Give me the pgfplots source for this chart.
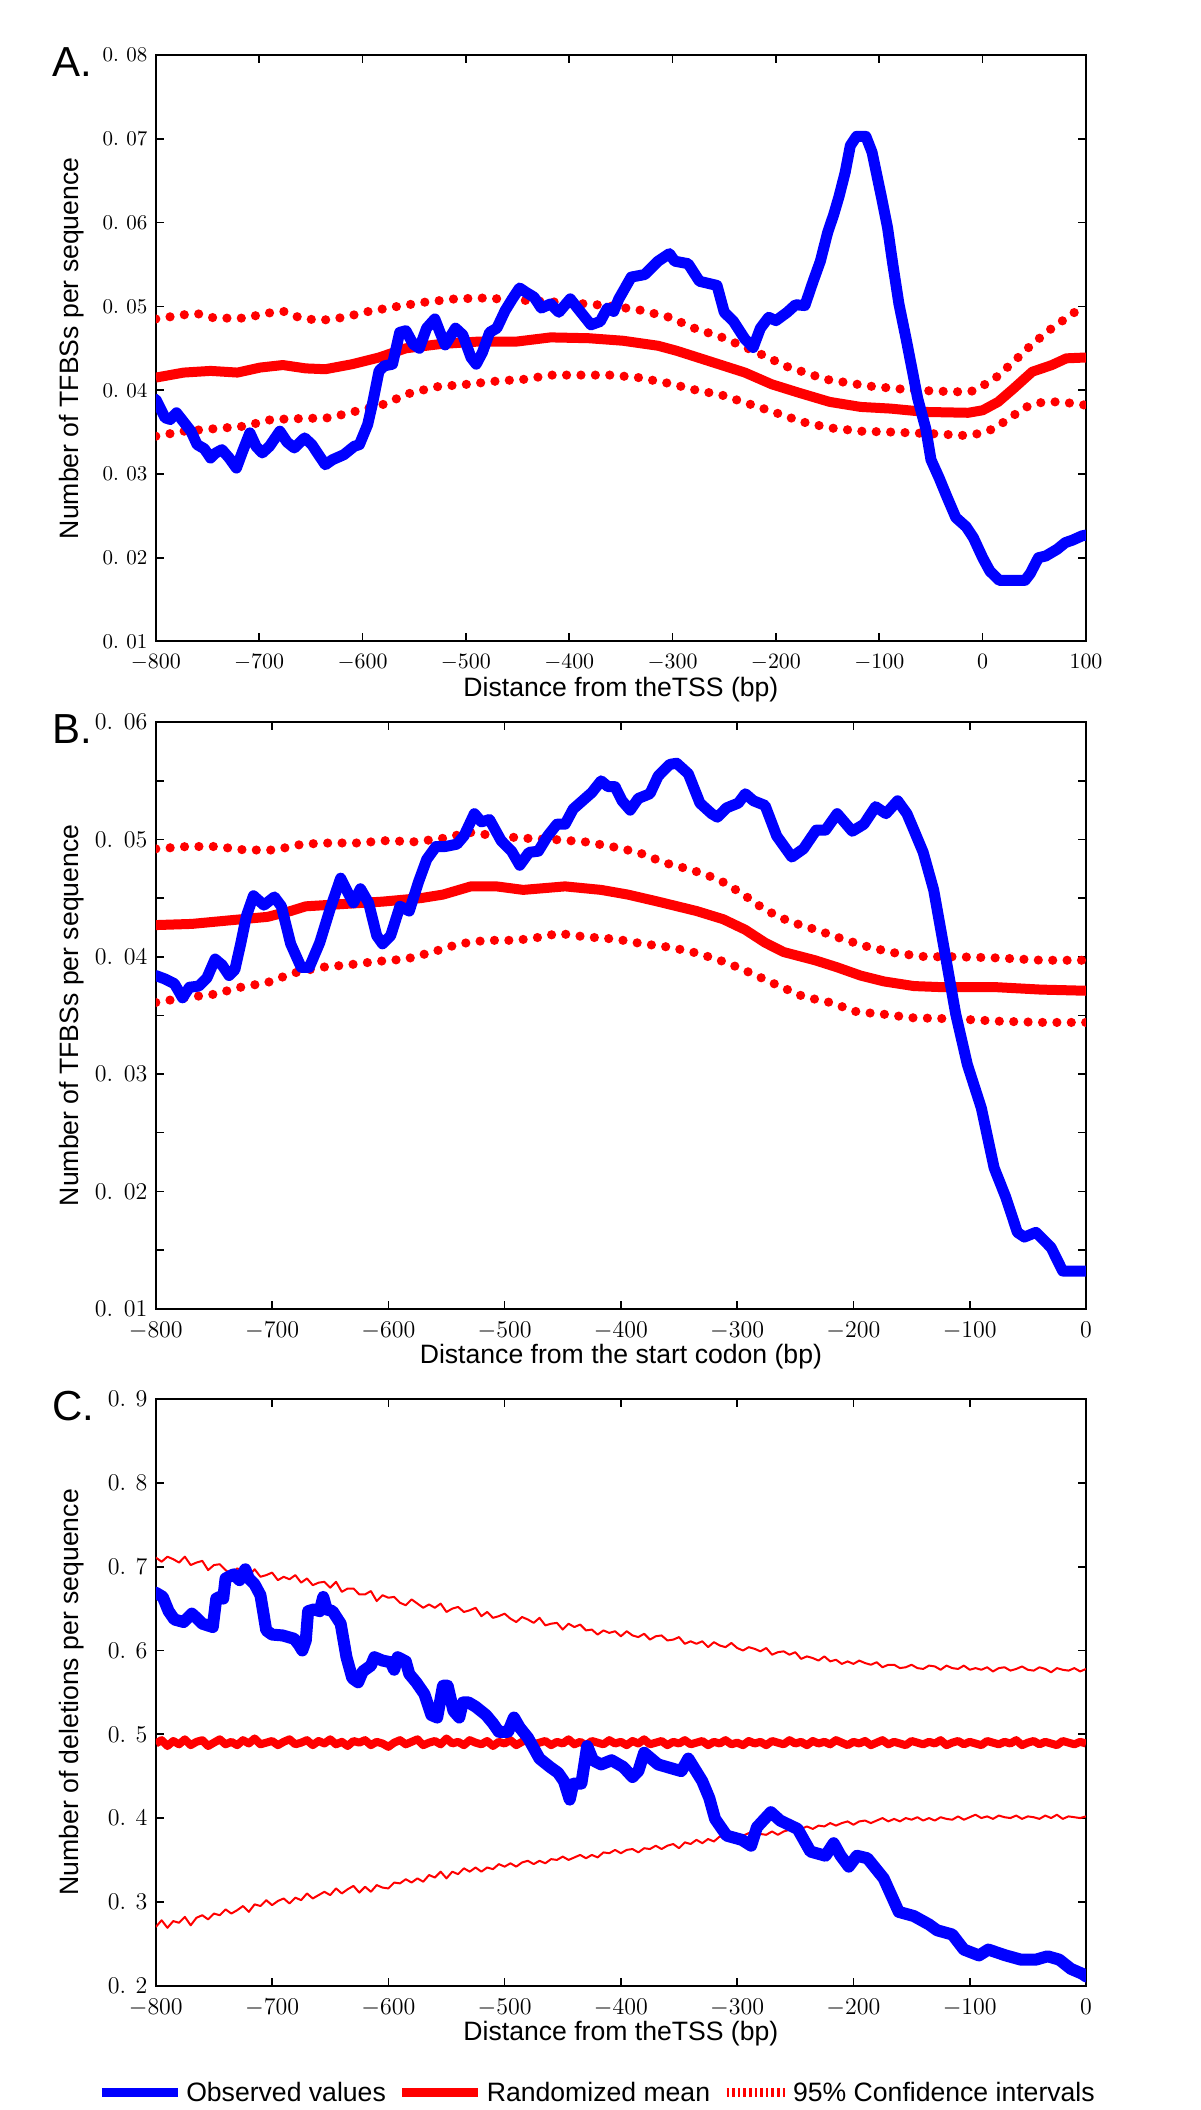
\documentclass[border=0pt]{standalone}
\usepackage{pgfplots}
\pgfplotsset{compat=1.18}
\usepackage{fontspec}
\newfontfamily\arial{Liberation Sans}
\pgfplotsset{
 panel/.style={
  scale only axis, width=465.1pt, height=293.2pt, anchor=south west,
  scaled y ticks=false, scaled x ticks=false,
  axis line style={line width=1pt, black},
  tick style={black, line width=0.8pt},
  major tick length=4pt, minor tick length=4pt, tick align=inside,
  label style={font=\arial\fontsize{13.3}{15}\selectfont},
  ylabel style={at={(axis description cs:-0.0903,0.5)}, anchor=center},
  xlabel style={at={(axis description cs:0.5,0)}, anchor=center, yshift=-24pt},
  xticklabel style={inner sep=1pt, yshift=-5.5pt},
  yticklabel style={inner sep=1pt, xshift=-3pt},
 },
 obs/.style={blue, line width=5.5pt, line join=round, line cap=round, forget plot},
 rmean/.style={red, line width=5pt, line join=round, forget plot},
 cidot/.style={red, line width=4.6pt, line cap=round, dash pattern=on 0pt off 7.2pt, forget plot},
 cithin/.style={red, line width=1pt, line join=round, forget plot},
}
\begin{document}
\begin{tikzpicture}
\useasboundingbox (0,0) rectangle (600pt,1055pt);
% ---------------- Panel A ----------------
\begin{axis}[panel, at={(77.9pt,734.25pt)},
  xmin=-800, xmax=100, ymin=0.01, ymax=0.08,
  xtick={-800,-700,-600,-500,-400,-300,-200,-100,0,100},
  ytick={0.01,0.02,0.03,0.04,0.05,0.06,0.07,0.08},
  yticklabels={0.\hspace{0.35em}01,0.\hspace{0.35em}02,0.\hspace{0.35em}03,0.\hspace{0.35em}04,0.\hspace{0.35em}05,0.\hspace{0.35em}06,0.\hspace{0.35em}07,0.\hspace{0.35em}08},
  ticklabel style={font=\fontsize{10.5}{12}\selectfont},
  xlabel={Distance from theTSS (bp)},
  ylabel={Number of TFBSs per sequence}]
\addplot[cidot] coordinates {(-800,0.0485) (-773,0.0490) (-758,0.0491) (-743,0.0486) (-729,0.0486) (-714,0.0486) (-692,0.0492) (-675,0.0494) (-662,0.0487) (-647,0.0484) (-634,0.0484) (-618,0.0487) (-594,0.0494) (-566,0.0500) (-540,0.0505) (-510,0.0509) (-482,0.0510) (-455,0.0508) (-425,0.0506) (-396,0.0504) (-363,0.0501) (-333,0.0496) (-303,0.0487) (-279,0.0474) (-252,0.0463) (-218,0.0445) (-189,0.0428) (-152,0.0413) (-111,0.0405) (-67,0.0400) (-26,0.0398) (-9,0.0399) (11,0.0413) (30,0.0434) (48,0.0455) (67,0.0474) (89,0.0493) (100,0.0497)};
\addplot[cidot] coordinates {(-800,0.0345) (-773,0.0351) (-743,0.0354) (-714,0.0357) (-688,0.0365) (-662,0.0366) (-632,0.0367) (-606,0.0375) (-580,0.0383) (-555,0.0396) (-529,0.0404) (-499,0.0407) (-469,0.0411) (-443,0.0413) (-418,0.0418) (-388,0.0418) (-359,0.0418) (-333,0.0415) (-303,0.0408) (-277,0.0400) (-252,0.0394) (-222,0.0382) (-200,0.0373) (-174,0.0362) (-148,0.0355) (-118,0.0351) (-89,0.0350) (-48,0.0348) (-19,0.0346) (-4,0.0348) (11,0.0354) (30,0.0370) (44,0.0381) (59,0.0386) (74,0.0386) (89,0.0384) (100,0.0382)};
\addplot[rmean] coordinates {(-800,0.0415) (-773,0.0421) (-747,0.0423) (-721,0.0421) (-699,0.0427) (-677,0.0430) (-655,0.0426) (-636,0.0425) (-610,0.0431) (-584,0.0439) (-558,0.0450) (-525,0.0455) (-488,0.0458) (-451,0.0458) (-418,0.0463) (-381,0.0462) (-348,0.0459) (-314,0.0453) (-296,0.0447) (-263,0.0434) (-230,0.0421) (-204,0.0407) (-178,0.0397) (-148,0.0386) (-118,0.0380) (-89,0.0378) (-55,0.0374) (-14,0.0373) (0,0.0376) (15,0.0386) (30,0.0402) (48,0.0422) (67,0.0430) (81,0.0438) (100,0.0439)};
\addplot[obs] coordinates {(-800,0.0389) (-791,0.0367) (-786,0.0365) (-780,0.0373) (-773,0.0362) (-766,0.0351) (-760,0.0335) (-753,0.0330) (-747,0.0319) (-742,0.0325) (-736,0.0329) (-729,0.0319) (-722,0.0307) (-716,0.0327) (-709,0.0349) (-703,0.0333) (-697,0.0325) (-690,0.0333) (-680,0.0351) (-673,0.0338) (-666,0.0331) (-656,0.0343) (-649,0.0335) (-642,0.0322) (-636,0.0311) (-629,0.0317) (-618,0.0323) (-608,0.0333) (-603,0.0335) (-595,0.0359) (-590,0.0386) (-584,0.0423) (-579,0.0429) (-571,0.0431) (-564,0.0469) (-558,0.0471) (-551,0.0455) (-545,0.0450) (-538,0.0474) (-530,0.0485) (-525,0.0469) (-520,0.0454) (-510,0.0474) (-503,0.0466) (-495,0.0439) (-490,0.0431) (-484,0.0445) (-477,0.0469) (-470,0.0474) (-462,0.0495) (-455,0.0509) (-448,0.0522) (-442,0.0517) (-434,0.0511) (-427,0.0498) (-418,0.0503) (-410,0.0493) (-399,0.0509) (-392,0.0498) (-379,0.0478) (-370,0.0482) (-363,0.0498) (-357,0.0494) (-352,0.0509) (-340,0.0535) (-327,0.0538) (-314,0.0554) (-303,0.0563) (-298,0.0554) (-285,0.0551) (-274,0.0530) (-257,0.0525) (-250,0.0493) (-241,0.0482) (-230,0.0461) (-222,0.0451) (-215,0.0474) (-207,0.0487) (-200,0.0483) (-189,0.0493) (-181,0.0502) (-172,0.0501) (-164,0.0530) (-157,0.0554) (-150,0.0588) (-144,0.0610) (-139,0.0631) (-133,0.0660) (-128,0.0692) (-122,0.0703) (-113,0.0703) (-107,0.0684) (-98,0.0631) (-92,0.0594) (-87,0.0551) (-81,0.0503) (-74,0.0461) (-68,0.0423) (-63,0.0391) (-55,0.0354) (-50,0.0317) (-42,0.0295) (-35,0.0274) (-26,0.0248) (-16,0.0237) (-9,0.0224) (0,0.0200) (7,0.0184) (16,0.0173) (29,0.0173) (41,0.0173) (46,0.0181) (54,0.0200) (61,0.0202) (72,0.0210) (80,0.0218) (87,0.0221) (96,0.0226) (100,0.0227)};
\end{axis}
% ---------------- Panel B ----------------
\begin{axis}[panel, at={(77.9pt,400.7pt)},
  xmin=-800, xmax=0, ymin=0.01, ymax=0.06,
  xtick={-800,-700,-600,-500,-400,-300,-200,-100,0},
  ytick={0.01,0.02,0.03,0.04,0.05,0.06},
  minor ytick={0.015,0.025,0.035,0.045,0.055},
  yticklabels={0.\hspace{0.45em}01,0.\hspace{0.45em}02,0.\hspace{0.45em}03,0.\hspace{0.45em}04,0.\hspace{0.45em}05,0.\hspace{0.45em}06},
  ticklabel style={font=\fontsize{12}{14}\selectfont},
  xlabel={Distance from the start codon (bp)},
  ylabel={Number of TFBSs per sequence}]
\addplot[cidot] coordinates {(-800,0.0492) (-773,0.0494) (-748,0.0494) (-723,0.0491) (-698,0.0491) (-674,0.0496) (-651,0.0497) (-626,0.0497) (-602,0.0499) (-577,0.0498) (-553,0.0501) (-530,0.0506) (-507,0.0503) (-482,0.0501) (-458,0.0500) (-431,0.0498) (-408,0.0494) (-385,0.0489) (-362,0.0480) (-339,0.0474) (-316,0.0466) (-296,0.0454) (-276,0.0440) (-255,0.0430) (-232,0.0423) (-209,0.0415) (-186,0.0408) (-163,0.0403) (-138,0.0400) (-112,0.0400) (-76,0.0399) (-38,0.0397) (0,0.0397)};
\addplot[cidot] coordinates {(-800,0.0361) (-776,0.0365) (-750,0.0368) (-727,0.0374) (-704,0.0378) (-682,0.0386) (-658,0.0391) (-635,0.0393) (-610,0.0396) (-585,0.0398) (-562,0.0404) (-539,0.0411) (-516,0.0414) (-490,0.0414) (-467,0.0417) (-454,0.0420) (-431,0.0417) (-404,0.0415) (-381,0.0411) (-357,0.0408) (-334,0.0403) (-309,0.0395) (-288,0.0386) (-266,0.0376) (-243,0.0366) (-220,0.0361) (-197,0.0353) (-174,0.0351) (-150,0.0348) (-112,0.0347) (-74,0.0345) (-36,0.0344) (0,0.0344)};
\addplot[rmean] coordinates {(-800,0.0427) (-769,0.0428) (-737,0.0431) (-704,0.0434) (-684,0.0439) (-671,0.0443) (-638,0.0445) (-605,0.0447) (-572,0.0450) (-553,0.0453) (-529,0.0460) (-507,0.0460) (-484,0.0457) (-448,0.0460) (-417,0.0457) (-394,0.0453) (-368,0.0447) (-335,0.0439) (-312,0.0432) (-293,0.0423) (-276,0.0412) (-260,0.0404) (-233,0.0397) (-214,0.0391) (-194,0.0384) (-174,0.0379) (-148,0.0375) (-122,0.0374) (-76,0.0374) (-39,0.0372) (0,0.0371)};
\addplot[obs] coordinates {(-800,0.0384) (-792,0.0381) (-784,0.0377) (-777,0.0365) (-771,0.0374) (-763,0.0375) (-756,0.0382) (-749,0.0398) (-743,0.0393) (-737,0.0384) (-732,0.0389) (-727,0.0411) (-722,0.0435) (-716,0.0452) (-707,0.0444) (-698,0.0451) (-692,0.0443) (-684,0.0411) (-675,0.0391) (-668,0.0391) (-659,0.0412) (-650,0.0441) (-641,0.0467) (-635,0.0455) (-630,0.0446) (-624,0.0458) (-617,0.0446) (-610,0.0418) (-605,0.0411) (-598,0.0418) (-590,0.0443) (-582,0.0439) (-574,0.0464) (-567,0.0483) (-559,0.0494) (-551,0.0494) (-541,0.0496) (-535,0.0503) (-526,0.0522) (-520,0.0515) (-513,0.0517) (-503,0.0499) (-494,0.0490) (-487,0.0478) (-479,0.0489) (-471,0.0490) (-463,0.0503) (-455,0.0513) (-448,0.0513) (-441,0.0526) (-433,0.0533) (-425,0.0540) (-417,0.0550) (-411,0.0545) (-405,0.0545) (-399,0.0533) (-392,0.0525) (-385,0.0535) (-375,0.0539) (-368,0.0554) (-358,0.0564) (-352,0.0565) (-342,0.0556) (-332,0.0531) (-322,0.0522) (-317,0.0519) (-309,0.0527) (-299,0.0531) (-293,0.0539) (-286,0.0533) (-276,0.0529) (-266,0.0503) (-253,0.0485) (-243,0.0492) (-232,0.0508) (-224,0.0508) (-214,0.0522) (-201,0.0507) (-191,0.0513) (-181,0.0528) (-172,0.0522) (-162,0.0533) (-154,0.0522) (-148,0.0508) (-140,0.0489) (-131,0.0457) (-122,0.0407) (-112,0.0351) (-102,0.0308) (-90,0.0271) (-79,0.0220) (-69,0.0195) (-59,0.0165) (-53,0.0161) (-43,0.0165) (-30,0.0152) (-20,0.0132) (-10,0.0132) (0,0.0132)};
\end{axis}
% ---------------- Panel C ----------------
\begin{axis}[panel, at={(77.9pt,62.2pt)},
  xmin=-800, xmax=0, ymin=0.2, ymax=0.9,
  xtick={-800,-700,-600,-500,-400,-300,-200,-100,0},
  ytick={0.2,0.3,0.4,0.5,0.6,0.7,0.8,0.9},
  yticklabels={0.\hspace{0.4em}2,0.\hspace{0.4em}3,0.\hspace{0.4em}4,0.\hspace{0.4em}5,0.\hspace{0.4em}6,0.\hspace{0.4em}7,0.\hspace{0.4em}8,0.\hspace{0.4em}9},
  ticklabel style={font=\fontsize{12}{14}\selectfont},
  xlabel={Distance from theTSS (bp)},
  ylabel={Number of deletions per sequence},
  legend style={at={(axis description cs:0.4754,-0.183)}, anchor=center, draw=none, fill=none,
    legend columns=3, font=\arial\fontsize{13.3}{15}\selectfont, inner sep=0pt,
    /tikz/every even column/.append style={column sep=4pt}},
  legend image code/.code={\draw[#1] (0pt,0pt) -- (38pt,0pt);}]
\addlegendimage{blue, line width=4.5pt}
\addlegendentry{Observed values}
\addlegendimage{red, line width=4.5pt}
\addlegendentry{Randomized mean}
\addlegendimage{legend image code/.code={\draw[red, line width=4.5pt, dash pattern=on 1.3pt off 1.5pt] (9pt,0pt) -- (38pt,0pt);}}
\addlegendentry{95\% Confidence intervals}
\addplot[cithin] coordinates {(-800,.711) (-795,.706) (-790,.712) (-785,.709) (-780,.705) (-775,.712) (-770,.702) (-765,.705) (-760,.707) (-755,.696) (-750,.702) (-745,.703) (-740,.696) (-735,.691) (-730,.698) (-725,.695) (-720,.689) (-715,.697) (-710,.688) (-705,.690) (-700,.693) (-695,.684) (-690,.688) (-685,.685) (-680,.690) (-675,.681) (-670,.686) (-665,.678) (-660,.681) (-655,.682) (-650,.675) (-645,.682) (-640,.670) (-635,.674) (-630,.674) (-625,.667) (-620,.667) (-615,.671) (-610,.659) (-605,.666) (-600,.663) (-595,.664) (-590,.657) (-585,.654) (-580,.661) (-575,.656) (-570,.651) (-565,.655) (-560,.651) (-555,.656) (-550,.646) (-545,.650) (-540,.652) (-535,.646) (-530,.648) (-525,.651) (-520,.641) (-515,.646) (-510,.639) (-505,.641) (-500,.644) (-495,.638) (-490,.634) (-485,.640) (-480,.637) (-475,.633) (-470,.639) (-465,.630) (-460,.632) (-455,.633) (-450,.625) (-445,.632) (-440,.628) (-435,.631) (-430,.624) (-425,.625) (-420,.619) (-415,.624) (-410,.621) (-405,.623) (-400,.617) (-395,.623) (-390,.618) (-385,.616) (-380,.620) (-375,.613) (-370,.617) (-365,.618) (-360,.612) (-355,.613) (-350,.616) (-345,.608) (-340,.611) (-335,.608) (-330,.611) (-325,.604) (-320,.610) (-315,.606) (-310,.604) (-305,.609) (-300,.603) (-295,.600) (-290,.604) (-285,.602) (-280,.599) (-275,.603) (-270,.595) (-265,.598) (-260,.599) (-255,.595) (-250,.598) (-245,.590) (-240,.593) (-235,.591) (-230,.588) (-225,.593) (-220,.587) (-215,.589) (-210,.584) (-205,.587) (-200,.584) (-195,.588) (-190,.585) (-185,.583) (-180,.586) (-175,.580) (-170,.583) (-165,.583) (-160,.579) (-155,.580) (-150,.583) (-145,.579) (-140,.578) (-135,.582) (-130,.581) (-125,.577) (-120,.582) (-115,.579) (-110,.578) (-105,.582) (-100,.577) (-95,.579) (-90,.577) (-85,.580) (-80,.575) (-75,.579) (-70,.580) (-65,.576) (-60,.578) (-55,.581) (-50,.577) (-45,.576) (-40,.580) (-35,.578) (-30,.574) (-25,.579) (-20,.577) (-15,.576) (-10,.579) (-5,.575) (0,.578)};
\addplot[cithin] coordinates {(-800,.270) (-795,.278) (-790,.269) (-785,.277) (-780,.275) (-775,.282) (-770,.272) (-765,.281) (-760,.284) (-755,.279) (-750,.286) (-745,.284) (-740,.291) (-735,.286) (-730,.290) (-725,.295) (-720,.288) (-715,.297) (-710,.295) (-705,.302) (-700,.296) (-695,.301) (-690,.304) (-685,.298) (-680,.305) (-675,.302) (-670,.310) (-665,.304) (-660,.308) (-655,.312) (-650,.308) (-645,.316) (-640,.310) (-635,.315) (-630,.319) (-625,.311) (-620,.318) (-615,.312) (-610,.320) (-605,.317) (-600,.316) (-595,.323) (-590,.322) (-585,.327) (-580,.323) (-575,.328) (-570,.324) (-565,.332) (-560,.329) (-555,.336) (-550,.328) (-545,.336) (-540,.333) (-535,.340) (-530,.336) (-525,.341) (-520,.336) (-515,.341) (-510,.339) (-505,.345) (-500,.342) (-495,.346) (-490,.342) (-485,.347) (-480,.349) (-475,.345) (-470,.349) (-465,.346) (-460,.351) (-455,.350) (-450,.354) (-445,.350) (-440,.353) (-435,.356) (-430,.352) (-425,.356) (-420,.353) (-415,.359) (-410,.358) (-405,.362) (-400,.358) (-395,.362) (-390,.363) (-385,.359) (-380,.364) (-375,.363) (-370,.367) (-365,.363) (-360,.367) (-355,.369) (-350,.364) (-345,.371) (-340,.369) (-335,.374) (-330,.370) (-325,.375) (-320,.372) (-315,.378) (-310,.376) (-305,.379) (-300,.375) (-295,.379) (-290,.382) (-285,.378) (-280,.381) (-275,.380) (-270,.384) (-265,.380) (-260,.384) (-255,.386) (-250,.383) (-245,.387) (-240,.390) (-235,.387) (-230,.391) (-225,.390) (-220,.394) (-215,.391) (-210,.394) (-205,.396) (-200,.392) (-195,.396) (-190,.397) (-185,.394) (-180,.397) (-175,.400) (-170,.396) (-165,.399) (-160,.396) (-155,.400) (-150,.398) (-145,.401) (-140,.397) (-135,.400) (-130,.397) (-125,.401) (-120,.399) (-115,.398) (-110,.402) (-105,.398) (-100,.401) (-95,.404) (-90,.400) (-85,.402) (-80,.399) (-75,.403) (-70,.401) (-65,.400) (-60,.403) (-55,.399) (-50,.402) (-45,.401) (-40,.399) (-35,.403) (-30,.400) (-25,.404) (-20,.399) (-15,.402) (-10,.401) (-5,.400) (0,.402)};
\addplot[red, line width=4pt, line join=round, forget plot] coordinates {(-800,.489) (-795,.493) (-790,.486) (-785,.492) (-780,.488) (-775,.494) (-770,.487) (-765,.491) (-760,.493) (-755,.486) (-750,.490) (-745,.494) (-740,.488) (-735,.491) (-730,.487) (-725,.493) (-720,.489) (-715,.495) (-710,.488) (-705,.490) (-700,.492) (-695,.487) (-690,.491) (-685,.494) (-680,.488) (-675,.490) (-670,.493) (-665,.487) (-660,.492) (-655,.489) (-650,.494) (-645,.488) (-640,.491) (-635,.486) (-630,.492) (-625,.490) (-620,.493) (-615,.487) (-610,.491) (-605,.489) (-600,.485) (-595,.490) (-590,.493) (-585,.488) (-580,.491) (-575,.494) (-570,.487) (-565,.490) (-560,.492) (-555,.488) (-550,.495) (-545,.489) (-540,.491) (-535,.487) (-530,.493) (-525,.490) (-520,.488) (-515,.492) (-510,.486) (-505,.491) (-500,.489) (-495,.493) (-490,.487) (-485,.491) (-480,.494) (-475,.488) (-470,.490) (-465,.492) (-460,.487) (-455,.491) (-450,.489) (-445,.494) (-440,.488) (-435,.491) (-430,.487) (-425,.492) (-420,.490) (-415,.488) (-410,.493) (-405,.489) (-400,.491) (-395,.487) (-390,.492) (-385,.489) (-380,.494) (-375,.488) (-370,.490) (-365,.492) (-360,.487) (-355,.491) (-350,.489) (-345,.493) (-340,.488) (-335,.490) (-330,.492) (-325,.487) (-320,.491) (-315,.489) (-310,.493) (-305,.488) (-300,.490) (-295,.487) (-290,.492) (-285,.489) (-280,.491) (-275,.487) (-270,.492) (-265,.490) (-260,.488) (-255,.493) (-250,.489) (-245,.491) (-240,.487) (-235,.492) (-230,.489) (-225,.491) (-220,.488) (-215,.493) (-210,.490) (-205,.487) (-200,.491) (-195,.489) (-190,.492) (-185,.487) (-180,.490) (-175,.493) (-170,.488) (-165,.491) (-160,.489) (-155,.487) (-150,.492) (-145,.490) (-140,.488) (-135,.491) (-130,.489) (-125,.493) (-120,.487) (-115,.490) (-110,.492) (-105,.488) (-100,.491) (-95,.489) (-90,.487) (-85,.492) (-80,.490) (-75,.488) (-70,.491) (-65,.489) (-60,.493) (-55,.487) (-50,.490) (-45,.492) (-40,.488) (-35,.491) (-30,.489) (-25,.487) (-20,.492) (-15,.490) (-10,.488) (-5,.491) (0,.489)};
\addplot[obs, line width=6pt] coordinates {(-800,0.669) (-794,0.664) (-789,0.647) (-784,0.637) (-776,0.634) (-769,0.644) (-765,0.639) (-760,0.632) (-751,0.628) (-748,0.662) (-745,0.664) (-742,0.662) (-740,0.686) (-733,0.691) (-728,0.684) (-723,0.697) (-720,0.686) (-715,0.679) (-710,0.666) (-705,0.624) (-700,0.619) (-691,0.618) (-681,0.614) (-677,0.607) (-674,0.600) (-671,0.612) (-669,0.647) (-664,0.649) (-659,0.647) (-656,0.664) (-653,0.649) (-648,0.647) (-641,0.632) (-636,0.592) (-631,0.567) (-626,0.562) (-622,0.575) (-615,0.582) (-612,0.592) (-605,0.588) (-598,0.586) (-595,0.577) (-592,0.592) (-585,0.587) (-582,0.572) (-576,0.562) (-569,0.548) (-563,0.523) (-558,0.520) (-553,0.558) (-549,0.558) (-544,0.528) (-539,0.520) (-536,0.538) (-531,0.538) (-525,0.533) (-516,0.523) (-510,0.513) (-505,0.503) (-497,0.503) (-492,0.520) (-487,0.508) (-480,0.496) (-470,0.471) (-461,0.461) (-454,0.454) (-449,0.444) (-444,0.422) (-441,0.441) (-434,0.441) (-429,0.486) (-424,0.469) (-417,0.464) (-408,0.469) (-398,0.461) (-390,0.449) (-385,0.456) (-380,0.478) (-368,0.464) (-348,0.456) (-342,0.471) (-330,0.444) (-324,0.424) (-319,0.399) (-309,0.379) (-296,0.374) (-288,0.367) (-283,0.389) (-271,0.407) (-263,0.397) (-248,0.387) (-237,0.360) (-224,0.355) (-217,0.370) (-211,0.355) (-204,0.342) (-197,0.355) (-188,0.352) (-174,0.328) (-161,0.288) (-148,0.283) (-135,0.273) (-128,0.266) (-115,0.261) (-105,0.243) (-92,0.236) (-84,0.243) (-69,0.236) (-56,0.231) (-43,0.231) (-33,0.235) (-23,0.231) (-13,0.220) (-3,0.214) (0,0.211)};
\end{axis}
% panel letters
\node[anchor=base west, inner sep=0pt, font=\arial\fontsize{21}{21}\selectfont] at (26pt,1016.5pt) {A.};
\node[anchor=base west, inner sep=0pt, font=\arial\fontsize{21}{21}\selectfont] at (26pt,683pt) {B.};
\node[anchor=base west, inner sep=0pt, font=\arial\fontsize{21}{21}\selectfont] at (26pt,344.5pt) {C.};
\end{tikzpicture}
\end{document}
